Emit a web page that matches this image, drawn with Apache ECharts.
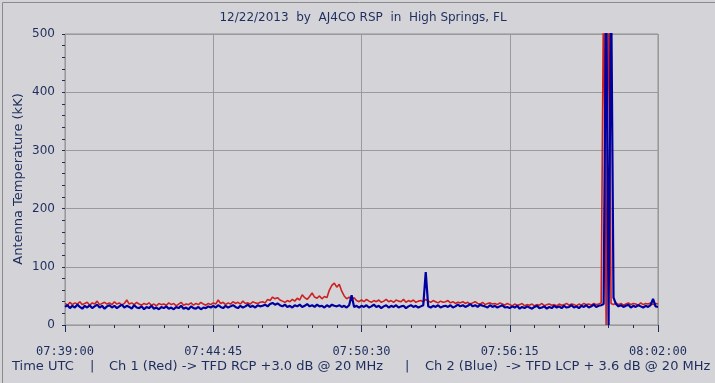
<!DOCTYPE html>
<html>
<head>
<meta charset="utf-8">
<script src="https://cdn.jsdelivr.net/npm/echarts@6/dist/echarts.min.js"></script>
<style>
html,body{margin:0;padding:0;background:#d4d4d8;}
#chart{width:715px;height:383px;}
</style>
</head>
<body>
<div id="chart"></div>
<script>
// ---- data ----
const titleText = '12/22/2013  by  AJ4CO RSP  in  High Springs, FL';
const yAxisTitle = 'Antenna Temperature (kK)';
const tickLabels = ['07:39:00', '07:44:45', '07:50:30', '07:56:15', '08:02:00'];
const tickStepSec = 345;
const spanSec = 1380;
const sampleStepSec = 5.75;
const footerParts = ['Time UTC', '|', 'Ch 1 (Red) -> TFD RCP +3.0 dB @ 20 MHz', '|', 'Ch 2 (Blue)  -> TFD LCP + 3.6 dB @ 20 MHz'];

const redValues = [
  37,34,39,35,38,36,40,35,37,39,34,38,36,41,35,37,39,36,38,35,
  40,36,38,34,37,43,36,38,35,39,36,34,37,35,38,34,36,33,37,35,
  36,34,38,35,37,33,36,39,34,36,35,38,34,37,35,39,36,34,37,35,
  38,36,43,37,39,35,38,36,40,37,39,36,41,37,38,36,40,38,37,39,
  40,38,44,42,48,45,47,43,41,39,42,40,44,41,46,43,52,47,44,49,
  55,48,46,50,45,49,47,60,68,72,65,70,58,50,45,48,44,47,42,40,
  43,40,44,41,39,42,40,43,39,41,44,40,42,39,43,41,40,44,39,42,
  40,43,39,41,42,40,44,41,39,42,40,38,41,39,40,42,38,40,37,39,
  38,40,37,39,36,38,40,37,36,39,35,37,38,36,37,35,38,36,34,37,
  35,33,36,34,35,37,33,35,34,36,33,35,34,37,33,35,36,34,35,33,
  36,34,35,37,34,36,35,33,36,34,37,35,36,34,37,35,36,38,
  600,0,600,37,35,
  38,35,37,34,36,38,35,37,36,34,38,35,37,36,38,35,37,36
];

const blueValues = [
  31,34,29,33,30,35,31,28,33,30,34,29,32,35,30,33,28,32,34,30,
  33,29,32,35,30,33,31,28,34,30,29,32,27,31,29,33,28,30,27,31,
  29,32,28,30,27,31,29,33,28,30,27,32,29,28,31,27,30,29,32,30,
  33,30,34,31,29,33,30,32,34,31,29,33,30,32,35,31,33,30,34,32,
  33,35,32,36,38,35,37,34,32,35,31,33,30,34,32,35,31,33,36,32,
  34,31,35,32,33,30,34,31,35,33,32,34,31,33,30,34,51,31,33,30,
  33,31,34,30,32,35,31,33,29,32,34,30,33,31,34,30,32,33,29,32,
  34,31,33,30,32,34,91,32,30,33,31,34,30,32,33,31,34,30,32,35,
  32,34,31,33,36,32,34,31,35,33,32,30,34,31,33,30,32,34,30,31,
  29,32,30,33,28,31,29,32,30,28,31,33,29,30,32,28,31,29,33,30,
  32,29,33,30,31,34,30,32,29,33,31,34,30,32,35,31,33,34,
  36,600,0,600,47,
  36,32,34,31,33,35,30,33,31,34,32,30,33,31,34,45,32,31
];

// ---- chart ----
const textColor = '#1e2d5e';
const bg = '#d4d4d8';
const toPairs = arr => arr.map((v, i) => [i * sampleStepSec, v]);

const chart = echarts.init(document.getElementById('chart'), null, {renderer: 'canvas'});
chart.setOption({
  animation: false,
  backgroundColor: bg,
  grid: {left: 65, right: 57, top: 34, bottom: 58, show: true, borderColor: '#8e8e8e', borderWidth: 1, backgroundColor: bg},
  xAxis: {
    type: 'value', min: 0, max: spanSec, interval: tickStepSec, offset: 4,
    axisLine: {show: false},
    axisTick: {show: true, length: 7, lineStyle: {color: textColor, width: 1}},
    minorTick: {show: true, splitNumber: 6, length: 3, lineStyle: {color: textColor, width: 1}},
    splitLine: {show: true, lineStyle: {color: '#9a9a9a', width: 1}},
    axisLabel: {margin: 17, color: textColor, fontFamily: 'DejaVu Sans Mono', fontSize: 12,
      formatter: v => tickLabels[Math.round(v / tickStepSec)] || ''}
  },
  yAxis: {
    type: 'value', min: 0, max: 500, interval: 100, offset: 5,
    axisLine: {show: false},
    axisTick: {show: true, length: 3, lineStyle: {color: textColor, width: 1}},
    minorTick: {show: true, splitNumber: 5, length: 3, lineStyle: {color: textColor, width: 1}},
    splitLine: {show: true, lineStyle: {color: '#9a9a9a', width: 1}},
    axisLabel: {margin: 5, color: textColor, fontFamily: 'DejaVu Sans', fontSize: 12}
  },
  series: [
    {type: 'line', name: 'Ch 1', data: toPairs(redValues), showSymbol: false, symbol: 'none',
      lineStyle: {color: '#cc2020', width: 1.6}, itemStyle: {color: '#cc2020'}, clip: true, z: 2},
    {type: 'line', name: 'Ch 2', data: toPairs(blueValues), showSymbol: false, symbol: 'none',
      lineStyle: {color: '#0000a0', width: 2.2}, itemStyle: {color: '#0000a0'}, clip: true, z: 3}
  ],
  graphic: [
    {type: 'rect', left: 0, top: 0, shape: {width: 714, height: 382}, style: {fill: 'none', stroke: '#8a8a8a', lineWidth: 1}, silent: true, z: 100},
    {type: 'text', x: 363, y: 18, style: {text: titleText, fill: textColor, font: '12px "DejaVu Sans"', textAlign: 'center', textVerticalAlign: 'middle'}},
    {type: 'text', x: 19, y: 179, rotation: Math.PI / 2, style: {text: yAxisTitle, fill: textColor, font: '13px "DejaVu Sans"', textAlign: 'center', textVerticalAlign: 'middle'}},
    {type: 'text', x: 12, y: 367, style: {text: footerParts[0], fill: textColor, font: '13px "DejaVu Sans"', textVerticalAlign: 'middle'}},
    {type: 'text', x: 90, y: 367, style: {text: footerParts[1], fill: textColor, font: '13px "DejaVu Sans"', textVerticalAlign: 'middle'}},
    {type: 'text', x: 109, y: 367, style: {text: footerParts[2], fill: textColor, font: '13px "DejaVu Sans"', textVerticalAlign: 'middle'}},
    {type: 'text', x: 405, y: 367, style: {text: footerParts[3], fill: textColor, font: '13px "DejaVu Sans"', textVerticalAlign: 'middle'}},
    {type: 'text', x: 425, y: 367, style: {text: footerParts[4], fill: textColor, font: '13px "DejaVu Sans"', textVerticalAlign: 'middle'}}
  ]
});
</script>
</body>
</html>
